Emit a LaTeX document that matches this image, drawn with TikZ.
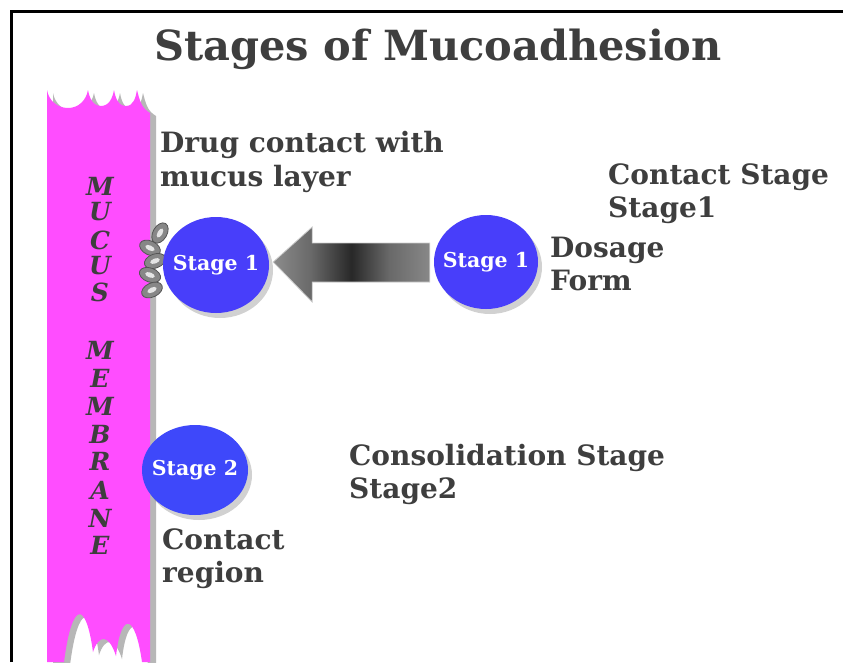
\documentclass[tikz,border=0pt]{standalone}
\usepackage{fontspec}
\setmainfont{DejaVu Serif}
\usetikzlibrary{shapes.geometric,calc}

\definecolor{membrane}{RGB}{255,77,255}
\definecolor{inktext}{RGB}{62,62,62}
\definecolor{discblue}{RGB}{72,62,250}
\definecolor{discblueb}{RGB}{62,72,250}
\definecolor{arrA}{RGB}{165,165,165}
\definecolor{arrB}{RGB}{140,140,140}
\definecolor{arrM}{RGB}{105,105,105}
\definecolor{arrC}{RGB}{40,40,40}
\definecolor{arrD}{RGB}{195,195,195}
\definecolor{chainfill}{RGB}{135,135,135}
\definecolor{chainedge}{RGB}{85,85,85}

\pgfdeclarehorizontalshading{arrowshade}{100bp}{%
  color(0bp)=(arrA); color(25bp)=(arrB); color(37bp)=(arrM); color(50bp)=(arrC); color(62bp)=(arrM); color(100bp)=(arrD)}

\tikzset{
  heading/.style={font=\bfseries\fontsize{41.5}{45}\selectfont, text=inktext, anchor=base},
  bodytext/.style={font=\bfseries\fontsize{28}{32}\selectfont, text=inktext, anchor=base west, inner sep=0pt},
  vletter/.style={font=\bfseries\itshape\fontsize{25}{27}\selectfont, text=inktext, inner sep=0pt},
  stagedisc/.style={ellipse, fill=discblue, inner sep=0pt},
  stagetext/.style={text=white, inner sep=0pt, font=\bfseries\fontsize{20.5}{23}\selectfont},
  discshadow/.style={fill=black, opacity=0.18},
  link/.style={fill=chainfill, draw=chainedge, line width=0.8pt},
  linkhole/.style={fill=white!80!gray},
}

\begin{document}
\begin{tikzpicture}[x=1pt,y=-1pt]
\useasboundingbox (0,0) rectangle (843,662);
\fill[white] (0,0) rectangle (843,662);

% frame along the top and left edges
\draw[line width=3pt] (11,662) -- (11,11) -- (843,11);

% title
\node[heading] (title) at (438,60) {Stages of Mucoadhesion};

% membrane strip: shadow first, then the pink body with ragged ends
\def\strip{(47,90) to[out=-80,in=180] (68,108) to[out=0,in=-100] (88,90)
  to[out=-80,in=180] (101,106) to[out=0,in=-100] (114,90)
  to[out=-80,in=180] (126,106) to[out=0,in=-100] (137,90)
  to[out=-75,in=150] (150,113)
  -- (150,662) -- (142,662)
  .. controls (135,612) and (121,612) .. (116,656)
  .. controls (109,634) and (99,634) .. (93,652)
  .. controls (86,600) and (72,600) .. (64,662)
  -- (47,662) -- cycle}
\fill[gray!70, opacity=0.8, xshift=6pt, yshift=-3pt] \strip;
\fill[membrane] \strip;

% vertical MUCUS MEMBRANE lettering
\foreach \ch/\yy [count=\i] in {M/186,U/212,C/240,U/266,S/292,M/350,E/378,M/406,B/434,R/461,A/490,N/518,E/545}{
  \node[vletter] (mm\i) at (100,\yy) {\ch};
}

% texts
\node[bodytext] (drug1) at (160,152) {Drug contact with};
\node[bodytext] (drug2) at (160,186) {mucus layer};
\node[bodytext] (cst1) at (608,184) {Contact Stage};
\node[bodytext] (cst2) at (608,217) {Stage1};
\node[bodytext] (dos1) at (550,257) {Dosage};
\node[bodytext] (dos2) at (550,290) {Form};
\node[bodytext] (con1) at (349,465) {Consolidation Stage};
\node[bodytext] (con2) at (349,498) {Stage2};
\node[bodytext] (reg1) at (162,549) {Contact};
\node[bodytext] (reg2) at (162,582) {region};

% disc shadows
\fill[discshadow] (220,270) ellipse (53pt and 48pt);
\fill[discshadow] (490,267) ellipse (52pt and 47pt);
\fill[discshadow] (199,475) ellipse (53pt and 45pt);

% adhesive chain between membrane and the attached disc
\foreach \cx/\cy/\ang in {160/233/60,150/248/-25,155/261/20,150/275/-20,152/290/25}{
  \fill[link, rotate around={\ang:(\cx,\cy)}] (\cx,\cy) ellipse (11pt and 7pt);
  \fill[linkhole, rotate around={\ang:(\cx,\cy)}] (\cx,\cy) ellipse (5pt and 2.5pt);
}

% stage discs
\node[stagedisc, minimum width=106pt, minimum height=96pt,
      label={[stagetext]center:Stage 1}] (s1a) at (216,265) {};
\node[stagedisc, minimum width=104pt, minimum height=94pt,
      label={[stagetext]center:Stage 1}] (s1b) at (486,262) {};
\node[stagedisc, fill=discblueb, minimum width=106pt, minimum height=90pt,
      label={[stagetext]center:Stage 2}] (s2) at (195,470) {};

% shaded block arrow from the dosage form to the membrane
\coordinate (tip) at ($(s1a.east)+(4,-3)$);
\coordinate (tail) at ($(s1b.west)+(-4,0)$);
\path[shading=arrowshade, draw=gray!40, line width=0.8pt]
  (tip) -- ($(tip)+(39,-35)$) -- ($(tip)+(39,-19)$) -- ($(tail)+(0,-19)$)
  -- ($(tail)+(0,20)$) -- ($(tip)+(39,20)$) -- ($(tip)+(39,40)$) -- cycle;
\end{tikzpicture}
\end{document}
